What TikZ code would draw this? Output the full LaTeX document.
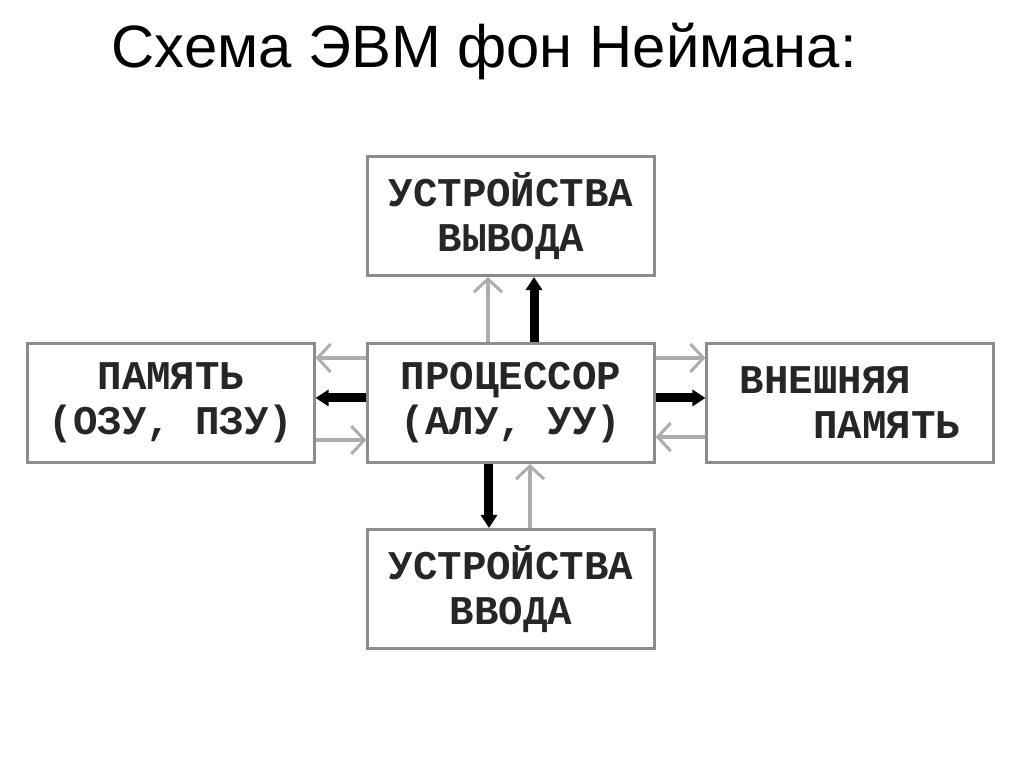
\documentclass[tikz,border=0pt]{standalone}
\usepackage{fontspec}
\setmainfont{Liberation Sans}
\setmonofont{Liberation Mono}
\usepackage{tikz}
\usetikzlibrary{arrows.meta}
\usetikzlibrary{positioning}

\definecolor{frame}{gray}{0.55}
\definecolor{thin}{gray}{0.68}

\tikzset{
  unit/.style={draw=frame, line width=0.3mm, fill=white,
    minimum width=2.86cm, minimum height=1.19cm, align=center,
    font=\ttfamily\bfseries\fontsize{11.6}{12.8}\selectfont, text=black!85},
  bus/.style={line width=0.9mm, -{Triangle[length=1.3mm,width=1.6mm]}},
  ctrl/.style={draw=thin, line width=0.35mm,
    -{Straight Barb[length=1.3mm,width=2.8mm,line width=0.3mm]}}
}

\begin{document}
\begin{tikzpicture}[x=0.01cm, y=-0.01cm]
    \useasboundingbox (0, 0) rectangle (1024, 768);

    \node [anchor=base west, inner sep=0pt, font=\fontsize{17}{20}\selectfont]
      (title) at (111, 68) {Схема ЭВМ фон Неймана:};

    \node [unit] (proc) at (511, 403) {ПРОЦЕССОР\\(АЛУ, УУ)};
    \node [unit] (out) at (511, 216) {УСТРОЙСТВА\\ВЫВОДА};
    \node [unit] (in) at (511, 589) {УСТРОЙСТВА\\ВВОДА};
    \node [unit] (mem) at (171, 403) {ПАМЯТЬ\\(ОЗУ, ПЗУ)};
    \node [unit, align=left] (ext) at (850, 403)
      {ВНЕШНЯЯ\\\phantom{ППП}ПАМЯТЬ};

    % processor <-> output
    \draw [ctrl] ([xshift=-2.3mm]proc.north) -- ([xshift=-2.3mm]out.south);
    \draw [bus] ([xshift=2.3mm]proc.north) -- ([xshift=2.3mm]out.south);

    % processor <-> input
    \draw [bus] ([xshift=-2.2mm]proc.south) -- ([xshift=-2.2mm]in.north);
    \draw [ctrl] ([xshift=1.9mm]in.north) -- ([xshift=1.9mm]proc.south);

    % processor <-> memory
    \draw [ctrl] ([yshift=4.5mm]proc.west) -- ([yshift=4.5mm]mem.east);
    \draw [bus] ([yshift=0.5mm]proc.west) -- ([yshift=0.5mm]mem.east);
    \draw [ctrl] ([yshift=-3.7mm]mem.east) -- ([yshift=-3.7mm]proc.west);

    % processor <-> external memory
    \draw [ctrl] ([yshift=4.5mm]proc.east) -- ([yshift=4.5mm]ext.west);
    \draw [bus] ([yshift=0.5mm]proc.east) -- ([yshift=0.5mm]ext.west);
    \draw [ctrl] ([yshift=-3.4mm]ext.west) -- ([yshift=-3.4mm]proc.east);

\end{tikzpicture}
\end{document}
